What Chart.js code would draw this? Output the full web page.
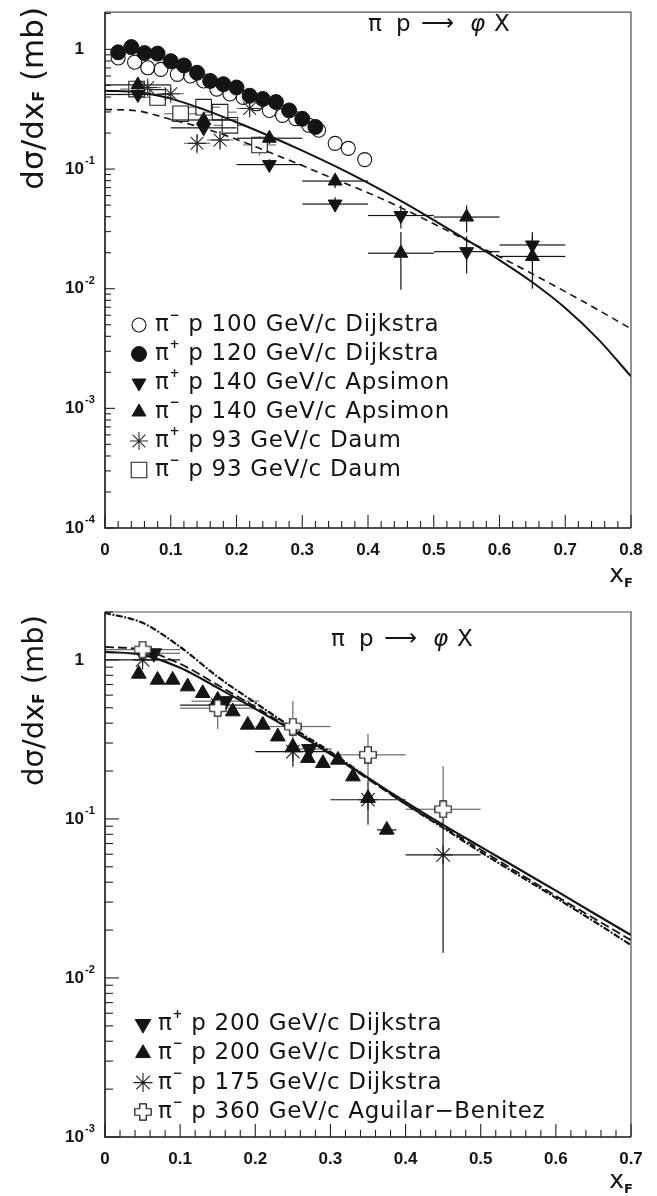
<!DOCTYPE html>
<html>
<head>
<meta charset="utf-8">
<title>pi p -> phi X, x_F spectra</title>
<script src="https://cdn.jsdelivr.net/npm/chart.js@4.4.1/dist/chart.umd.min.js"></script>
<style>
  html, body { margin: 0; padding: 0; background: #fff; }
  body { width: 657px; height: 1196px; position: relative; overflow: hidden; }
  canvas { position: absolute; left: 0; }
  #lowEnergy { top: 0; }
  #highEnergy { top: 590px; }
</style>
</head>
<body>
<canvas id="lowEnergy" width="657" height="590"></canvas>
<canvas id="highEnergy" width="657" height="606"></canvas>
<script>
const SANS = '"DejaVu Sans", "Noto Sans", sans-serif';
const HELV = '"Liberation Sans", Arial, sans-serif';
const INK = '#141414';

// ---------- upper pad: 93 - 140 GeV/c beams ----------
const lowFitX = [0, 0.05, 0.1, 0.15, 0.2, 0.25, 0.3, 0.35, 0.4, 0.45, 0.5, 0.55, 0.6, 0.65, 0.7, 0.75, 0.8];
const lowFitSolid = [0.451, 0.439, 0.388, 0.315, 0.246, 0.189, 0.1426, 0.1057, 0.0766, 0.0542, 0.0375, 0.0256, 0.01734, 0.01132, 0.0069, 0.00379, 0.00185];
const lowFitDashed = [0.315, 0.306, 0.26, 0.22, 0.177, 0.138, 0.107, 0.082, 0.0634, 0.0476, 0.0349, 0.0253, 0.0185, 0.0133, 0.00945, 0.00665, 0.00462];

const dijkMinus100X = [0.02, 0.045, 0.065, 0.085, 0.11, 0.13, 0.15, 0.17, 0.19, 0.21, 0.23, 0.25, 0.27, 0.29, 0.31, 0.325, 0.35, 0.37, 0.395];
const dijkMinus100Y = [0.848, 0.782, 0.702, 0.681, 0.619, 0.600, 0.545, 0.466, 0.424, 0.397, 0.351, 0.309, 0.281, 0.264, 0.232, 0.211, 0.164, 0.149, 0.120];

const dijkPlus120X = [0.02, 0.04, 0.06, 0.08, 0.1, 0.12, 0.14, 0.16, 0.18, 0.2, 0.22, 0.24, 0.26, 0.28, 0.3, 0.32];
const dijkPlus120Y = [0.945, 1.045, 0.932, 0.922, 0.797, 0.734, 0.638, 0.545, 0.512, 0.480, 0.410, 0.385, 0.363, 0.309, 0.263, 0.225];

const apsX = [0.05, 0.15, 0.25, 0.35, 0.45, 0.55, 0.65];
const apsXErr = [0.05, 0.05, 0.05, 0.05, 0.05, 0.05, 0.05];
const apsPlus140Y = [0.42, 0.221, 0.109, 0.051, 0.0409, 0.0204, 0.0232];
const apsPlus140YErr = [0.04, 0.025, 0.012, 0.007, 0.009, 0.007, 0.0065];
const apsMinus140Y = [0.505, 0.257, 0.181, 0.0794, 0.0198, 0.0397, 0.0186];
const apsMinus140YErr = [0.05, 0.03, 0.02, 0.01, 0.01, 0.01, 0.0086];

const daumPlus93X = [0.065, 0.1, 0.14, 0.175, 0.22];
const daumPlus93Y = [0.48, 0.426, 0.164, 0.175, 0.321];
const daumPlus93XErr = [0.02, 0.02, 0.02, 0.02, 0.02];
const daumPlus93YErr = [0.06, 0.05, 0.03, 0.03, 0.04];
const daumMinus93X = [0.048, 0.08, 0.115, 0.15, 0.175, 0.19, 0.235];
const daumMinus93Y = [0.466, 0.397, 0.29, 0.329, 0.299, 0.232, 0.159];
const daumMinus93XErr = [0.025, 0.025, 0.025, 0.025, 0.025, 0.025, 0.025];
const daumMinus93YErr = [0.05, 0.04, 0.04, 0.04, 0.04, 0.03, 0.03];

// ---------- lower pad: 175 - 360 GeV/c beams ----------
const highFitX = [0, 0.05, 0.1, 0.15, 0.2, 0.25, 0.3, 0.35, 0.4, 0.45, 0.5, 0.55, 0.6, 0.65, 0.7];
const highFitSolid = [1.123, 1.075, 0.891, 0.667, 0.492, 0.358, 0.256, 0.181, 0.128, 0.0917, 0.0667, 0.0486, 0.0354, 0.0256, 0.0186];
const highFitDashed = [1.207, 1.155, 0.944, 0.696, 0.506, 0.363, 0.256, 0.178, 0.124, 0.0893, 0.064, 0.0458, 0.0328, 0.0238, 0.0173];
const highFitDotDash = [1.975, 1.709, 1.207, 0.782, 0.537, 0.373, 0.264, 0.181, 0.124, 0.0878, 0.0619, 0.0444, 0.0319, 0.0228, 0.0161];

const dijkPlus200X = [0.065, 0.16, 0.272];
const dijkPlus200Y = [1.1, 0.55, 0.275];
const dijkPlus200XErr = [0.035, 0.045, 0.03];
const dijkPlus200YErr = [0.08, 0.04, 0.02];

const dijkMinus200X = [0.045, 0.07, 0.09, 0.11, 0.13, 0.15, 0.17, 0.19, 0.21, 0.23, 0.25, 0.27, 0.29, 0.31, 0.33, 0.35, 0.375];
const dijkMinus200Y = [0.816, 0.748, 0.748, 0.679, 0.617, 0.56, 0.473, 0.39, 0.39, 0.329, 0.284, 0.241, 0.224, 0.235, 0.1845, 0.135, 0.0853];
const dijkMinus200XErr = [0, 0, 0, 0, 0, 0, 0, 0, 0, 0, 0, 0, 0, 0, 0, 0, 0.013];

const dijkMinus175X = [0.05, 0.15, 0.25, 0.35, 0.45];
const dijkMinus175Y = [1.0, 0.52, 0.265, 0.132, 0.0594];
const dijkMinus175XErr = [0.05, 0.05, 0.05, 0.05, 0.05];
const dijkMinus175YErr = [0.08, 0.06, 0.05, 0.04, 0.045];

const aguilar360X = [0.05, 0.15, 0.25, 0.35, 0.45];
const aguilar360Y = [1.16, 0.497, 0.381, 0.253, 0.115];
const aguilar360XErr = [0.05, 0.05, 0.05, 0.05, 0.05];
const aguilar360YErr = [0.15, 0.13, 0.17, 0.09, 0.1];

// open cross marker (white inside, thin outline)
function makeOpenCross(size) {
    const c = document.createElement('canvas');
    c.width = c.height = size;
    const g = c.getContext('2d');
    const m = size / 2, a = size * 0.18, lo = 0.8, hi = size - 0.8;
    g.beginPath();
    g.moveTo(m - a, lo); g.lineTo(m + a, lo); g.lineTo(m + a, m - a); g.lineTo(hi, m - a);
    g.lineTo(hi, m + a); g.lineTo(m + a, m + a); g.lineTo(m + a, hi); g.lineTo(m - a, hi);
    g.lineTo(m - a, m + a); g.lineTo(lo, m + a); g.lineTo(lo, m - a); g.lineTo(m - a, m - a);
    g.closePath();
    g.fillStyle = '#fff';
    g.fill();
    g.strokeStyle = INK;
    g.lineWidth = 1.2;
    g.stroke();
    return c;
}

const HOLLOW = 'rgba(0,0,0,0)';
const MK = {
    openCircle: { shape: 'circle', r: 7, fill: HOLLOW, line: INK, w: 1.1, gap: 7, order: 3 },
    fullCircle: { shape: 'circle', r: 7.5, fill: INK, line: INK, w: 1, gap: 7, order: 1 },
    downTri: { shape: 'triangle', r: 8, rot: 180, fill: INK, line: INK, w: 1, gap: 4, order: 1 },
    upTri: { shape: 'triangle', r: 8, rot: 0, fill: INK, line: INK, w: 1, gap: 4, order: 1 },
    star: { shape: 'star', r: 9, fill: INK, line: '#2a2a2a', w: 1.1, gap: 0, order: 2 },
    openSquare: { shape: 'rect', r: 11, fill: HOLLOW, line: '#222', w: 1.1, gap: 7.5, order: 3 },
    bigDownTri: { shape: 'triangle', r: 9, rot: 180, fill: INK, line: INK, w: 1, gap: 4, order: 1 },
    bigUpTri: { shape: 'triangle', r: 8.5, rot: 0, fill: INK, line: INK, w: 1, gap: 4, order: 1 },
    bigStar: { shape: 'star', r: 9.5, fill: INK, line: '#1a1a1a', w: 1.1, gap: 0, order: 2 },
    openCross: { shape: makeOpenCross(18), r: 9, fill: '#fff', line: INK, w: 1, gap: 8, order: 0 }
};

function markers(label, xs, ys, mk, err) {
    err = err || {};
    return {
        type: 'scatter',
        label,
        data: xs.map((x, i) => ({ x, y: ys[i] })),
        pointStyle: mk.shape,
        pointRadius: mk.r,
        pointRotation: mk.rot || 0,
        pointBackgroundColor: mk.fill,
        pointBorderColor: mk.line,
        pointBorderWidth: mk.w,
        order: mk.order,
        clip: false,
        xErr: err.x,
        yErr: err.y,
        errColor: err.color || INK,
        errGap: mk.gap
    };
}

function curve(label, xs, ys, width, dash, cap) {
    return {
        type: 'line',
        label,
        data: xs.map((x, i) => ({ x, y: ys[i] })),
        borderColor: INK,
        borderWidth: width,
        borderDash: dash || [],
        borderCapStyle: cap || 'butt',
        pointRadius: 0,
        cubicInterpolationMode: 'monotone',
        fill: false,
        order: 6
    };
}

// text made of pieces with their own font and vertical offset
function richText(ctx, parts, x, y, align) {
    let total = 0;
    parts.forEach(p => { ctx.font = p.font; total += ctx.measureText(p.text).width; });
    let cx = align === 'right' ? x - total : align === 'center' ? x - total / 2 : x;
    parts.forEach(p => {
        ctx.font = p.font;
        ctx.fillText(p.text, cx, y + (p.dy || 0));
        cx += ctx.measureText(p.text).width;
    });
    return total;
}

function drawErrorBars(chart) {
    const { ctx, chartArea, scales } = chart;
    const sx = scales.x, sy = scales.y;
    ctx.save();
    ctx.beginPath();
    ctx.rect(chartArea.left, chartArea.top, chartArea.right - chartArea.left, chartArea.bottom - chartArea.top);
    ctx.clip();
    ctx.lineWidth = 1.2;
    const seg = (x1, y1, x2, y2) => {
        if (Math.abs(x2 - x1) + Math.abs(y2 - y1) < 0.5) return;
        ctx.beginPath();
        ctx.moveTo(x1, y1);
        ctx.lineTo(x2, y2);
        ctx.stroke();
    };
    chart.data.datasets.forEach(ds => {
        if (!ds.xErr && !ds.yErr) return;
        ctx.strokeStyle = ds.errColor;
        const gap = ds.errGap || 0;
        ds.data.forEach((p, k) => {
            const px = sx.getPixelForValue(p.x);
            const py = sy.getPixelForValue(p.y);
            const ex = ds.xErr ? ds.xErr[k] : 0;
            const ey = ds.yErr ? ds.yErr[k] : 0;
            if (ex > 0) {
                const l = sx.getPixelForValue(p.x - ex);
                const r = sx.getPixelForValue(p.x + ex);
                if (px - gap > l) seg(l, py, px - gap, py);
                if (r > px + gap) seg(px + gap, py, r, py);
            }
            if (ey > 0) {
                const t = sy.getPixelForValue(p.y + ey);
                const b = sy.getPixelForValue(Math.max(p.y - ey, sy.min * 0.5));
                if (py - gap > t) seg(px, t, px, py - gap);
                if (b > py + gap) seg(px, py + gap, px, b);
            }
        });
    });
    ctx.restore();
}

function drawFrame(chart, pad) {
    const { ctx, chartArea: a, scales } = chart;
    const sx = scales.x, sy = scales.y;
    ctx.save();
    // box
    ctx.strokeStyle = '#4a4a4a';
    ctx.lineWidth = 1.2;
    ctx.beginPath();
    ctx.moveTo(a.left, a.top); ctx.lineTo(a.right, a.top); ctx.lineTo(a.right, a.bottom);
    ctx.stroke();
    ctx.strokeStyle = INK;
    ctx.lineWidth = 1.6;
    ctx.beginPath();
    ctx.moveTo(a.left, a.top); ctx.lineTo(a.left, a.bottom); ctx.lineTo(a.right, a.bottom);
    ctx.stroke();

    // inward ticks on x
    ctx.lineWidth = 1.1;
    ctx.strokeStyle = '#222';
    for (let k = 0; k <= Math.round(pad.xMax / 0.02); k++) {
        const v = k * 0.02;
        const px = sx.getPixelForValue(v);
        const len = k % 5 === 0 ? pad.xTickMajor : pad.xTickMinor;
        ctx.beginPath();
        ctx.moveTo(px, a.bottom);
        ctx.lineTo(px, a.bottom - len);
        ctx.stroke();
    }
    // inward ticks on y, one decade at a time
    for (let e = pad.yMinExp; e <= 0; e++) {
        for (let m = 1; m <= 9; m++) {
            const v = m * Math.pow(10, e);
            if (v < sy.min * 0.999 || v > sy.max * 1.001) continue;
            const py = sy.getPixelForValue(v);
            const len = m === 1 ? pad.yTickMajor : pad.yTickMinor;
            ctx.beginPath();
            ctx.moveTo(a.left, py);
            ctx.lineTo(a.left + len, py);
            ctx.stroke();
        }
    }

    // decade labels
    ctx.fillStyle = INK;
    ctx.textBaseline = 'middle';
    const big = 'bold 17px ' + HELV;
    const small = 'bold 11px ' + HELV;
    for (let e = pad.yMinExp; e <= 0; e++) {
        const py = sy.getPixelForValue(Math.pow(10, e));
        ctx.font = big;
        ctx.textAlign = 'right';
        if (e === 0) {
            ctx.fillText('1', 84, py);
        } else {
            ctx.fillText('10', 84, py);
            ctx.font = small;
            ctx.textAlign = 'left';
            ctx.fillText(String(e), 85, py - 8);
        }
    }

    // y axis title, right-aligned at the top of the axis
    ctx.save();
    ctx.translate(pad.yTitleBase, pad.yTitleEnd);
    ctx.rotate(-Math.PI / 2);
    ctx.textBaseline = 'alphabetic';
    ctx.textAlign = 'left';
    const fs = pad.yTitleSize;
    richText(ctx, [
        { text: 'dσ/dx', font: fs + 'px ' + SANS },
        { text: 'F', font: 'bold ' + Math.round(fs * 0.5) + 'px ' + SANS, dy: 1 },
        { text: ' (mb)', font: fs + 'px ' + SANS }
    ], 0, 0, 'right');
    ctx.restore();

    // x axis title
    ctx.textAlign = 'left';
    ctx.textBaseline = 'alphabetic';
    richText(ctx, [
        { text: 'x', font: '25px ' + SANS },
        { text: 'F', font: 'bold 13px ' + SANS, dy: 5 }
    ], 633, pad.xTitleY, 'right');

    // reaction label
    ctx.textBaseline = 'alphabetic';
    ctx.font = '23px ' + SANS;
    ctx.fillText('π', pad.titleX, pad.titleY);
    ctx.fillText('p', pad.titleX + 28, pad.titleY);
    ctx.fillText('⟶', pad.titleX + 53, pad.titleY - 1);
    ctx.font = 'italic 23px ' + SANS;
    ctx.fillText('φ', pad.titleX + 102, pad.titleY);
    ctx.font = '23px ' + SANS;
    ctx.fillText('X', pad.titleX + 126, pad.titleY);

    // legend
    pad.legend.forEach((item, i) => {
        const y = pad.legendY + i * pad.legendStep;
        ctx.save();
        ctx.fillStyle = item.mk.fill;
        ctx.strokeStyle = item.mk.line;
        ctx.lineWidth = item.mk.w;
        Chart.helpers.drawPoint(ctx, {
            pointStyle: item.mk.shape,
            radius: item.mk.r,
            rotation: item.mk.rot || 0,
            borderWidth: item.mk.w
        }, pad.legendMarkX, y);
        ctx.restore();
        ctx.save();
        ctx.fillStyle = INK;
        ctx.textBaseline = 'middle';
        ctx.letterSpacing = '0.7px';
        richText(ctx, [
            { text: 'π', font: '23px ' + SANS },
            { text: item.charge, font: 'bold 12px ' + SANS, dy: -9 },
            { text: item.text, font: '23px ' + SANS }
        ], pad.legendTextX, y, 'left');
        ctx.restore();
    });
    ctx.restore();
}

function makePad(canvasId, pad, datasets) {
    const decor = {
        id: 'padDecor',
        beforeDatasetsDraw(chart) { drawErrorBars(chart); },
        afterDraw(chart) { drawFrame(chart, pad); }
    };
    return new Chart(document.getElementById(canvasId), {
        type: 'scatter',
        data: { datasets },
        options: {
            responsive: false,
            animation: false,
            events: [],
            devicePixelRatio: 1,
            layout: { padding: { top: pad.top, right: 26, bottom: 0, left: 0 } },
            plugins: { legend: { display: false }, tooltip: { enabled: false } },
            scales: {
                x: {
                    type: 'linear',
                    min: 0,
                    max: pad.xMax,
                    grid: { display: false, drawTicks: false },
                    border: { display: false },
                    ticks: {
                        stepSize: 0.1,
                        autoSkip: false,
                        maxRotation: 0,
                        padding: 12,
                        color: INK,
                        font: { family: HELV, size: 17, weight: 'bold' },
                        callback: v => String(+Number(v).toFixed(1))
                    },
                    afterFit: s => { s.height = pad.xAxisHeight; }
                },
                y: {
                    type: 'logarithmic',
                    min: pad.yMin,
                    max: pad.yMax,
                    grid: { display: false, drawTicks: false },
                    border: { display: false },
                    ticks: { display: false },
                    afterFit: s => { s.width = 105; }
                }
            }
        },
        plugins: [decor]
    });
}

makePad('lowEnergy', {
    top: 5, xAxisHeight: 62, xMax: 0.8, yMin: 1e-4, yMax: 2.05, yMinExp: -4,
    xTickMajor: 13, xTickMinor: 7, yTickMajor: 10, yTickMinor: 6,
    yTitleBase: 43, yTitleEnd: 7, yTitleSize: 31, xTitleY: 582,
    titleX: 368, titleY: 31,
    legendMarkX: 139, legendTextX: 155, legendY: 325, legendStep: 29,
    legend: [
        { mk: MK.openCircle, charge: '−', text: ' p 100 GeV/c Dijkstra' },
        { mk: MK.fullCircle, charge: '+', text: ' p 120 GeV/c Dijkstra' },
        { mk: MK.downTri, charge: '+', text: ' p 140 GeV/c Apsimon' },
        { mk: MK.upTri, charge: '−', text: ' p 140 GeV/c Apsimon' },
        { mk: MK.star, charge: '+', text: ' p 93 GeV/c Daum' },
        { mk: MK.openSquare, charge: '−', text: ' p 93 GeV/c Daum' }
    ]
}, [
    curve('fit', lowFitX, lowFitSolid, 2),
    curve('fit (dashed)', lowFitX, lowFitDashed, 1.6, [7, 5]),
    markers('π- p 100 GeV/c Dijkstra', dijkMinus100X, dijkMinus100Y, MK.openCircle),
    markers('π+ p 120 GeV/c Dijkstra', dijkPlus120X, dijkPlus120Y, MK.fullCircle),
    markers('π+ p 140 GeV/c Apsimon', apsX, apsPlus140Y, MK.downTri, { x: apsXErr, y: apsPlus140YErr }),
    markers('π- p 140 GeV/c Apsimon', apsX, apsMinus140Y, MK.upTri, { x: apsXErr, y: apsMinus140YErr }),
    markers('π+ p 93 GeV/c Daum', daumPlus93X, daumPlus93Y, MK.star, { x: daumPlus93XErr, y: daumPlus93YErr, color: '#777' }),
    markers('π- p 93 GeV/c Daum', daumMinus93X, daumMinus93Y, MK.openSquare, { x: daumMinus93XErr, y: daumMinus93YErr, color: '#777' })
]);

makePad('highEnergy', {
    top: 22, xAxisHeight: 59, xMax: 0.7, yMin: 1e-3, yMax: 2.0, yMinExp: -3,
    xTickMajor: 13, xTickMinor: 7, yTickMajor: 14, yTickMinor: 8,
    yTitleBase: 43, yTitleEnd: 25, yTitleSize: 29, xTitleY: 598,
    titleX: 331, titleY: 56,
    legendMarkX: 143, legendTextX: 158, legendY: 434, legendStep: 29.3,
    legend: [
        { mk: MK.bigDownTri, charge: '+', text: ' p 200 GeV/c Dijkstra' },
        { mk: MK.bigUpTri, charge: '−', text: ' p 200 GeV/c Dijkstra' },
        { mk: MK.bigStar, charge: '−', text: ' p 175 GeV/c Dijkstra' },
        { mk: MK.openCross, charge: '−', text: ' p 360 GeV/c Aguilar−Benitez' }
    ]
}, [
    curve('fit', highFitX, highFitSolid, 2.2),
    curve('fit (dashed)', highFitX, highFitDashed, 1.8, [9, 4]),
    curve('fit (dot-dashed)', highFitX, highFitDotDash, 2.2, [5, 3.5, 0.1, 3.5], 'round'),
    markers('π+ p 200 GeV/c Dijkstra', dijkPlus200X, dijkPlus200Y, MK.bigDownTri, { x: dijkPlus200XErr, y: dijkPlus200YErr, color: '#6a6a6a' }),
    markers('π- p 200 GeV/c Dijkstra', dijkMinus200X, dijkMinus200Y, MK.bigUpTri, { x: dijkMinus200XErr }),
    markers('π- p 175 GeV/c Dijkstra', dijkMinus175X, dijkMinus175Y, MK.bigStar, { x: dijkMinus175XErr, y: dijkMinus175YErr }),
    markers('π- p 360 GeV/c Aguilar-Benitez', aguilar360X, aguilar360Y, MK.openCross, { x: aguilar360XErr, y: aguilar360YErr, color: '#6a6a6a' })
]);
</script>
</body>
</html>
